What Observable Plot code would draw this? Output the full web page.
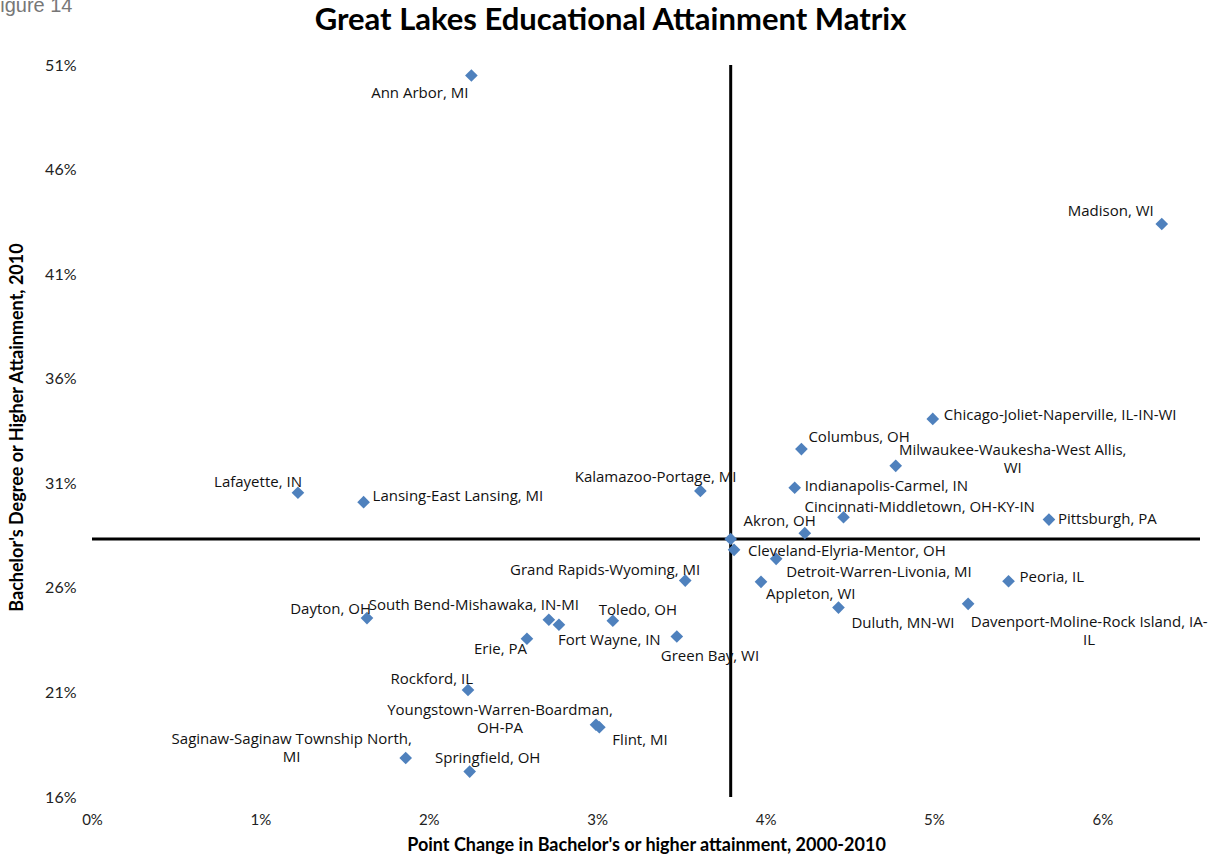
<!DOCTYPE html>
<html>
<head>
<meta charset="utf-8">
<script src="https://cdn.jsdelivr.net/npm/d3@7"></script>
<script src="https://cdn.jsdelivr.net/npm/@observablehq/plot@0.6"></script>
<style>
  html, body { margin: 0; padding: 0; background: #fff; overflow: hidden; }
  #wrap { position: relative; width: 1211px; height: 864px; }
  #fig { position: absolute; left: -12px; top: -5px; font: 20px/20px "Liberation Sans", sans-serif; color: #777; white-space: nowrap; }
  #title { height: 40px; line-height: 36px; text-align: center; padding-left: 10px; font: bold 31px/36px Lato, sans-serif; color: #000; }
  #chart svg g[aria-label="city label"] text { letter-spacing: 0.35px; }
</style>
</head>
<body>
<div id="wrap">
  <div id="fig">Figure 14</div>
  <div id="title">Great Lakes Educational Attainment Matrix</div>
  <div id="chart"></div>
</div>
<script>
// ---- data ----
const cities = [
  "Ann Arbor, MI", "Madison, WI", "Chicago-Joliet-Naperville, IL-IN-WI", "Columbus, OH",
  "Milwaukee-Waukesha-West Allis, WI", "Indianapolis-Carmel, IN", "Cincinnati-Middletown, OH-KY-IN",
  "Pittsburgh, PA", "Akron, OH", "Cleveland-Elyria-Mentor, OH", "Detroit-Warren-Livonia, MI",
  "Appleton, WI", "Peoria, IL", "Duluth, MN-WI", "Davenport-Moline-Rock Island, IA-IL",
  "Kalamazoo-Portage, MI", "Grand Rapids-Wyoming, MI", "Lafayette, IN", "Lansing-East Lansing, MI",
  "Dayton, OH", "South Bend-Mishawaka, IN-MI", "Fort Wayne, IN", "Toledo, OH", "Erie, PA",
  "Green Bay, WI", "Rockford, IL", "Youngstown-Warren-Boardman, OH-PA", "Flint, MI",
  "Saginaw-Saginaw Township North, MI", "Springfield, OH"
];
// Point change in bachelor's or higher attainment, 2000-2010 (percentage points)
const pointChange = [
  2.25, 6.35, 4.99, 4.21,
  4.77, 4.17, 4.46,
  5.68, 4.23, 3.81, 4.06,
  3.97, 5.44, 4.43, 5.20,
  3.61, 3.52, 1.22, 1.61,
  1.63, 2.71, 2.77, 3.09, 2.58,
  3.47, 2.23, 2.99, 3.01,
  1.86, 2.24
];
// Bachelor's degree or higher attainment, 2010 (%)
const attainment2010 = [
  50.52, 43.42, 34.10, 32.66,
  31.86, 30.81, 29.40,
  29.29, 28.64, 27.84, 27.41,
  26.31, 26.34, 25.08, 25.26,
  30.66, 26.37, 30.57, 30.12,
  24.58, 24.50, 24.26, 24.45, 23.59,
  23.70, 21.14, 19.48, 19.36,
  17.89, 17.24
];
// Great Lakes average (crosshair)
const avgChange = [3.79];
const avgAttainment = [28.36];
const xTicks = [0, 1, 2, 3, 4, 5, 6];
const yTicks = [16, 21, 26, 31, 36, 41, 46, 51];

const rows = cities.map((name, i) => ({name, change: pointChange[i], attain: attainment2010[i]}));

// ---- label layout: [anchor, dx, dy, wrapAfter] ----
const layout = {
  "Ann Arbor, MI": ["end", -3, 17],
  "Madison, WI": ["end", -8, -14],
  "Chicago-Joliet-Naperville, IL-IN-WI": ["start", 11, -5],
  "Columbus, OH": ["start", 7, -13],
  "Milwaukee-Waukesha-West Allis, WI": ["middle", 117, -8, ","],
  "Indianapolis-Carmel, IN": ["start", 10, -3],
  "Cincinnati-Middletown, OH-KY-IN": ["start", -39, -11],
  "Pittsburgh, PA": ["start", 9, -1],
  "Akron, OH": ["end", 11, -13],
  "Cleveland-Elyria-Mentor, OH": ["start", 14, 0],
  "Detroit-Warren-Livonia, MI": ["start", 10, 12],
  "Appleton, WI": ["start", 5, 11],
  "Peoria, IL": ["start", 11, -5],
  "Duluth, MN-WI": ["start", 13, 15],
  "Davenport-Moline-Rock Island, IA-IL": ["middle", 121, 26, "IA-"],
  "Kalamazoo-Portage, MI": ["end", 36, -15],
  "Grand Rapids-Wyoming, MI": ["end", 15, -11],
  "Lafayette, IN": ["end", 4, -12],
  "Lansing-East Lansing, MI": ["start", 9, -7],
  "Dayton, OH": ["end", 4, -10],
  "South Bend-Mishawaka, IN-MI": ["end", 30, -15],
  "Fort Wayne, IN": ["start", -1, 14],
  "Toledo, OH": ["start", -14, -12],
  "Erie, PA": ["end", 0, 9],
  "Green Bay, WI": ["start", -16, 19],
  "Rockford, IL": ["end", 5, -12],
  "Youngstown-Warren-Boardman, OH-PA": ["middle", -96, -6, ","],
  "Flint, MI": ["start", 13, 12],
  "Saginaw-Saginaw Township North, MI": ["middle", -114, -11, ","],
  "Springfield, OH": ["middle", 18, -14]
};
function wrapLabel(name, br) {
  if (!br) return name;
  const i = name.lastIndexOf(br) + br.length;
  return name.slice(0, i).trimEnd() + "\n" + name.slice(i).trimStart();
}

const labelMarks = rows.map(r => {
  const [anchor, dx, dy, br] = layout[r.name];
  return Plot.text([r], {
    x: "change", y: "attain", text: d => wrapLabel(d.name, br),
    textAnchor: anchor, dx, dy, lineHeight: 1.2, fill: "#111",
    fontSize: 15, fontFamily: "'Open Sans', sans-serif", ariaLabel: "city label"
  });
});

const chart = Plot.plot({
  width: 1211,
  height: 824,
  marginTop: 25,
  marginBottom: 67,
  marginLeft: 92,
  marginRight: 11,
  style: {fontFamily: "Lato, sans-serif", fontSize: "14px", background: "#fff", color: "#222"},
  x: {domain: [0, 6.58], axis: null},
  y: {domain: [16, 51], axis: null},
  marks: [
    Plot.axisY({ticks: yTicks, tickFormat: d => d + "%", tickSize: 0, tickPadding: 16, fontSize: 16, label: null, fill: "#222"}),
    Plot.axisX({ticks: xTicks, tickFormat: d => d + "%", tickSize: 0, tickPadding: 17, fontSize: 15, label: null, fill: "#222"}),
    Plot.text(["Bachelor's Degree or Higher Attainment, 2010"], {frameAnchor: "left", textAnchor: "middle", rotate: -90, dx: -75, dy: -4, fontWeight: "bold", fontSize: 18, fill: "#000"}),
    Plot.text(["Point Change in Bachelor's or higher attainment, 2000-2010"], {frameAnchor: "bottom", dy: 53, fontWeight: "bold", fontSize: 18, fill: "#000"}),
    Plot.ruleX(avgChange, {stroke: "#000", strokeWidth: 3}),
    Plot.ruleY(avgAttainment, {stroke: "#000", strokeWidth: 3}),
    Plot.dot(avgChange.map((c, i) => ({change: c, attain: avgAttainment[i]})), {x: "change", y: "attain", symbol: "diamond2", r: 5.7, fill: "#4F81BD"}),
    Plot.dot(rows, {x: "change", y: "attain", symbol: "diamond2", r: 5.7, fill: "#4F81BD"}),
    ...labelMarks
  ]
});
document.getElementById("chart").appendChild(chart);
</script>
</body>
</html>
